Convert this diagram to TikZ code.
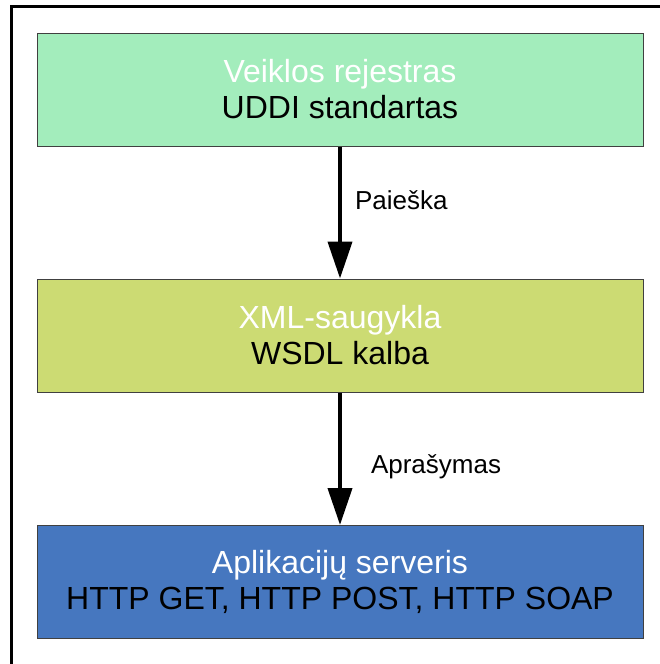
\documentclass[tikz,border=0pt]{standalone}
\usepackage{fontspec}
\setmainfont{Liberation Sans}
\usetikzlibrary{arrows.meta}
\definecolor{regcol}{RGB}{163,237,188}
\definecolor{xmlcol}{RGB}{204,219,115}
\definecolor{srvcol}{RGB}{70,119,191}

\begin{document}
\begin{tikzpicture}[x=1pt,y=-1pt,
        layer/.style={draw=black!75,line width=1pt,minimum width=606pt,minimum height=113pt,align=center,
            font=\fontsize{32}{36}\selectfont},
        flow/.style={line width=4pt,-{Triangle[width=24pt,length=37pt]}},
        lbl/.style={anchor=base west,inner sep=0pt,font=\fontsize{26}{30}\selectfont}]
        \useasboundingbox (0,0) rectangle (659,664);
        \draw[line width=3pt] (11,6) rectangle (700,700);
        \node[layer,fill=regcol](reg)at(340,89.5){\textcolor{white}{Veiklos rejestras}\\UDDI standartas};
        \node[layer,fill=xmlcol](xml)at(340,335.5){\textcolor{white}{XML-saugykla}\\WSDL kalba};
        \node[layer,fill=srvcol](srv)at(340,582){\textcolor{white}{Aplikacijų serveris}\\HTTP GET, HTTP POST, HTTP SOAP};
        \draw[flow] (reg)--node[lbl,pos=0.48,xshift=13pt](find){Paieška}(xml);
        \draw[flow] (xml)--node[lbl,pos=0.61,xshift=29pt](desc){Aprašymas}(srv);
\end{tikzpicture}
\end{document}
